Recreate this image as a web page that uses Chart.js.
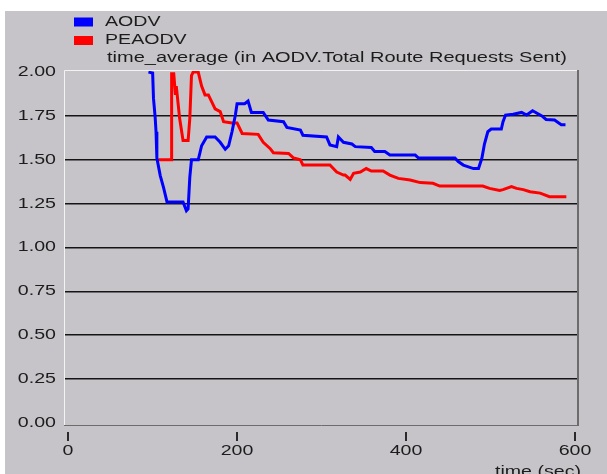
<!DOCTYPE html>
<html>
<head>
<meta charset="utf-8">
<script src="https://cdn.jsdelivr.net/npm/chart.js@4/dist/chart.umd.min.js"></script>
<style>
  html, body { margin: 0; padding: 0; background: #ffffff; }
  #plot { display: block; }
</style>
</head>
<body>
<canvas id="plot" width="607" height="474"></canvas>
<script>
// Simulation time (sec) and time-averaged route requests for each protocol
const aodvTime = [95, 100, 101, 103, 104, 105, 109, 113, 117, 136, 140, 142, 144, 146, 154, 158, 164, 174, 180, 186, 190, 194, 198, 200, 209, 213, 217, 231, 237, 255, 259, 275, 278, 306, 310, 318, 320, 326, 336, 340, 359, 363, 375, 381, 411, 415, 458, 462, 468, 480, 486, 490, 493, 497, 501, 513, 515, 518, 527, 537, 543, 550, 561, 566, 576, 584, 589];
const aodvValue = [2.00, 1.995, 1.85, 1.74, 1.66, 1.51, 1.41, 1.34, 1.26, 1.26, 1.21, 1.22, 1.40, 1.50, 1.50, 1.58, 1.63, 1.63, 1.60, 1.56, 1.58, 1.66, 1.755, 1.82, 1.82, 1.835, 1.77, 1.77, 1.727, 1.717, 1.685, 1.67, 1.64, 1.63, 1.585, 1.575, 1.63, 1.60, 1.59, 1.575, 1.57, 1.547, 1.547, 1.527, 1.527, 1.51, 1.51, 1.49, 1.47, 1.45, 1.45, 1.51, 1.59, 1.66, 1.675, 1.675, 1.717, 1.755, 1.76, 1.77, 1.755, 1.78, 1.75, 1.73, 1.727, 1.70, 1.70];

const peaodvTime = [107, 122, 122.5, 125, 127, 128, 132, 136, 142, 144, 146, 148, 154, 158, 162, 166, 170, 174, 180, 184, 194, 200, 206, 225, 231, 239, 243, 261, 267, 275, 278, 310, 318, 326, 328, 334, 338, 346, 353, 359, 373, 381, 391, 405, 417, 432, 440, 491, 499, 511, 515, 525, 531, 539, 547, 559, 570, 590];
const peaodvValue = [1.50, 1.50, 1.99, 1.99, 1.87, 1.92, 1.735, 1.61, 1.61, 1.735, 1.98, 2.00, 2.00, 1.92, 1.87, 1.87, 1.83, 1.79, 1.775, 1.717, 1.71, 1.71, 1.65, 1.645, 1.60, 1.565, 1.54, 1.536, 1.51, 1.50, 1.47, 1.47, 1.43, 1.413, 1.413, 1.388, 1.423, 1.43, 1.45, 1.436, 1.436, 1.413, 1.394, 1.385, 1.37, 1.366, 1.35, 1.35, 1.337, 1.325, 1.33, 1.347, 1.337, 1.33, 1.318, 1.31, 1.29, 1.29];

const seriesNames = ['AODV', 'PEAODV'];
const statName = 'time_average (in AODV.Total Route Requests Sent)';
const xAxisName = 'time (sec)';
const yTicks = [0, 0.25, 0.5, 0.75, 1.0, 1.25, 1.5, 1.75, 2.0];
const xTicks = [0, 200, 400, 600];

const toPoints = (xs, ys) => xs.map((x, i) => ({ x: x, y: ys[i] }));

const FONT = '14px "Liberation Sans", Arial, sans-serif';
const STRETCH = 1.4;
const TEXT = '#1c1c1c';

function stretchedText(ctx, text, x, y, align, sx) {
  ctx.save();
  ctx.font = FONT;
  ctx.fillStyle = TEXT;
  ctx.textBaseline = 'middle';
  ctx.textAlign = align;
  ctx.translate(x, y);
  ctx.scale(sx || STRETCH, 1);
  ctx.fillText(text, 0, 0);
  ctx.restore();
}

// Panel background, frame, ticks, legend and labels
const frame = {
  id: 'frame',
  beforeDraw(chart) {
    const ctx = chart.ctx;
    ctx.save();
    ctx.fillStyle = '#ffffff';
    ctx.fillRect(0, 0, chart.width, chart.height);
    ctx.fillStyle = '#c6c4c8';
    ctx.fillRect(5, 11, chart.width - 5, chart.height - 11);
    ctx.restore();
  },
  afterDraw(chart) {
    const ctx = chart.ctx;
    const a = chart.chartArea;
    const xs = chart.scales.x;
    const ys = chart.scales.y;

    ctx.save();
    // inset frame: light top/left, dark right/bottom
    ctx.lineWidth = 1;
    ctx.strokeStyle = '#f2f2f2';
    ctx.beginPath();
    ctx.moveTo(a.left + 0.5, a.bottom);
    ctx.lineTo(a.left + 0.5, a.top + 0.5);
    ctx.lineTo(a.right, a.top + 0.5);
    ctx.stroke();
    ctx.strokeStyle = '#6c6c6c';
    ctx.lineWidth = 2;
    ctx.beginPath();
    ctx.moveTo(a.right - 1, a.top);
    ctx.lineTo(a.right - 1, a.bottom);
    ctx.stroke();
    ctx.lineWidth = 1;
    ctx.beginPath();
    ctx.moveTo(a.left, a.bottom + 0.5);
    ctx.lineTo(a.right, a.bottom + 0.5);
    ctx.stroke();

    // x tick marks and labels
    ctx.strokeStyle = '#2a2a2a';
    ctx.lineWidth = 2;
    xs.ticks.forEach(t => {
      const px = Math.round(xs.getPixelForValue(t.value));
      ctx.beginPath();
      ctx.moveTo(px, a.bottom + 7);
      ctx.lineTo(px, a.bottom + 16);
      ctx.stroke();
      stretchedText(ctx, String(t.value), px, a.bottom + 26, 'center');
    });
    ctx.restore();

    // y tick labels
    ys.ticks.forEach(t => {
      stretchedText(ctx, t.value.toFixed(2), a.left - 8, ys.getPixelForValue(t.value), 'right');
    });

    // legend
    const colors = chart.data.datasets.map(d => d.borderColor);
    const rows = [22, 40.5];
    seriesNames.forEach((name, i) => {
      ctx.fillStyle = colors[i];
      ctx.fillRect(74, rows[i] - 4.5, 19, 9);
      stretchedText(ctx, name, 105, rows[i], 'left');
    });
    stretchedText(ctx, statName, 107, 58, 'left', 1.43);

    // x axis name, partly below the panel edge
    stretchedText(ctx, xAxisName, 538, 472, 'center');
  }
};

new Chart(document.getElementById('plot'), {
  type: 'line',
  data: {
    datasets: [
      { label: seriesNames[0], data: toPoints(aodvTime, aodvValue), borderColor: '#0000ff', borderWidth: 3 },
      { label: seriesNames[1], data: toPoints(peaodvTime, peaodvValue), borderColor: '#ff0000', borderWidth: 3 }
    ]
  },
  options: {
    responsive: false,
    animation: false,
    devicePixelRatio: 1,
    layout: { padding: { top: 70, right: 28, left: 0, bottom: 0 } },
    elements: { point: { radius: 0 }, line: { tension: 0, borderJoinStyle: 'miter' } },
    plugins: { legend: { display: false }, tooltip: { enabled: false } },
    scales: {
      x: {
        type: 'linear',
        min: -5,
        max: 605,
        afterBuildTicks: s => { s.ticks = xTicks.map(v => ({ value: v })); },
        afterFit: s => { s.height = 49; },
        ticks: { display: false },
        grid: { display: false, drawTicks: false },
        border: { display: false }
      },
      y: {
        type: 'linear',
        min: -0.012,
        max: 2.012,
        afterBuildTicks: s => { s.ticks = yTicks.map(v => ({ value: v })); },
        afterFit: s => { s.width = 64; },
        ticks: { display: false },
        grid: {
          drawTicks: false,
          lineWidth: 1.5,
          color: c => (c.tick && c.tick.value > 0 && c.tick.value < 2) ? '#141414' : 'rgba(0,0,0,0)'
        },
        border: { display: false }
      }
    }
  },
  plugins: [frame]
});
</script>
</body>
</html>
